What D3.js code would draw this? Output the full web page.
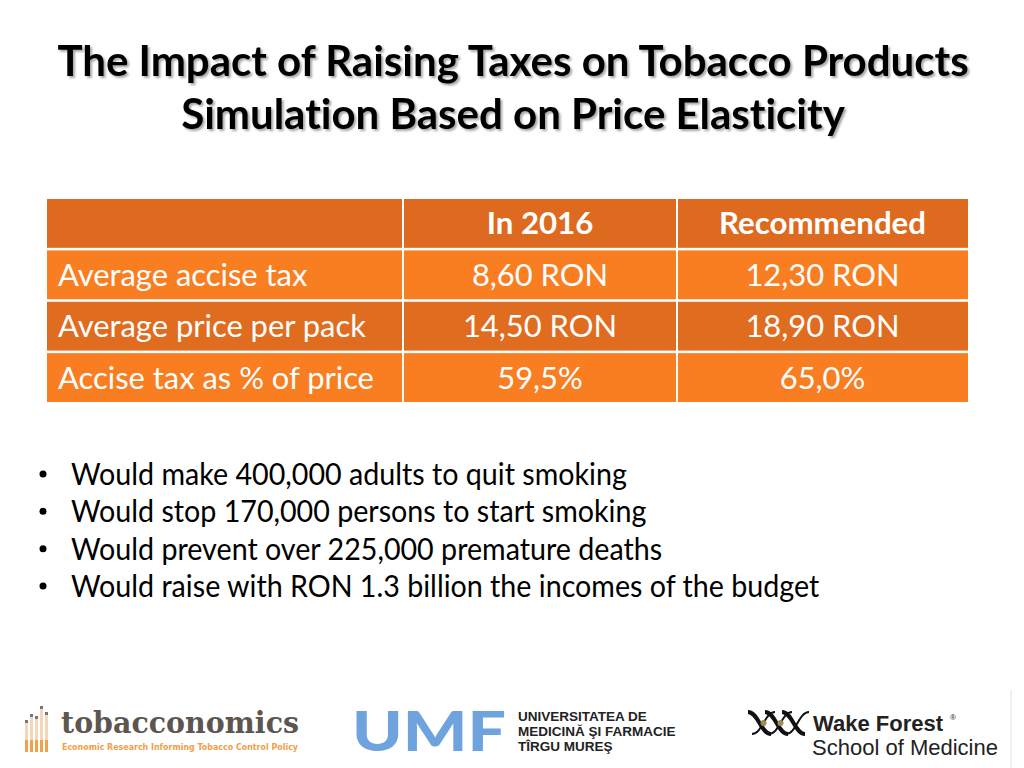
<!DOCTYPE html>
<html>
<head>
<meta charset="utf-8">
<script src="https://cdn.jsdelivr.net/npm/d3@7"></script>
<style>
  html, body { margin: 0; padding: 0; background: #fff; }
  svg { display: block; }
  text { font-variant-ligatures: none; font-feature-settings: "liga" 0, "clig" 0, "dlig" 0; }
</style>
</head>
<body>
<svg id="chart" width="1024" height="768"></svg>
<script>
// ---- data ----
const titleLines = ["The Impact of Raising Taxes on Tobacco Products", "Simulation Based on Price Elasticity"];
const columns = ["", "In 2016", "Recommended"];
const rowLabels = ["Average accise tax", "Average price per pack", "Accise tax as % of price"];
const values2016 = ["8,60 RON", "14,50 RON", "59,5%"];
const valuesRecommended = ["12,30 RON", "18,90 RON", "65,0%"];
const bullets = [
  "Would make 400,000 adults to quit smoking",
  "Would stop 170,000 persons to start smoking",
  "Would prevent over 225,000 premature deaths",
  "Would raise with RON 1.3 billion the incomes of the budget"
];
const umfLines = ["UNIVERSITATEA DE", "MEDICINĂ ŞI FARMACIE", "TÎRGU MUREŞ"];

// ---- layout ----
const svg = d3.select("#chart");
const FONT = "Lato, 'Open Sans', sans-serif";

function squeeze(sel, k) {
  sel.each(function() {
    const w = this.getComputedTextLength();
    d3.select(this).attr("textLength", w * k).attr("lengthAdjust", "spacingAndGlyphs");
  });
}

// defs: title shadow
const defs = svg.append("defs");
const f = defs.append("filter").attr("id", "shadow").attr("x", "-5%").attr("y", "-20%").attr("width", "110%").attr("height", "140%");
f.append("feDropShadow").attr("dx", 2).attr("dy", 2).attr("stdDeviation", 1.2).attr("flood-color", "#000").attr("flood-opacity", 0.35);

// title
const titleY = d3.scaleOrdinal().domain([0, 1]).range([76, 129]);
svg.append("g").selectAll("text").data(titleLines).join("text")
  .attr("x", 513).attr("y", (d, i) => titleY(i))
  .attr("text-anchor", "middle")
  .attr("font-family", FONT).attr("font-weight", 700).attr("font-size", 42)
  .attr("fill", "#000").attr("filter", "url(#shadow)")
  .text(d => d)
  .call(squeeze, 1.0);

// table
const rowKeys = ["header"].concat(rowLabels);
const y = d3.scaleBand().domain(rowKeys).range([199, 402]).paddingInner(0.05);
const colEdges = [47, 403, 677, 968];
const x = d3.scaleOrdinal().domain(columns).range(colEdges.slice(0, 3));
const xEnd = d3.scaleOrdinal().domain(columns).range(colEdges.slice(1));
const rowColor = d3.scaleOrdinal().domain(rowKeys).range(["#DD6A1F", "#F97D21", "#DF6C1F", "#F97D21"]);

const table = svg.append("g");
table.selectAll("rect.row").data(rowKeys).join("rect")
  .attr("class", "row")
  .attr("x", colEdges[0]).attr("width", colEdges[3] - colEdges[0])
  .attr("y", d => y(d)).attr("height", y.bandwidth())
  .attr("fill", d => rowColor(d));

table.selectAll("line.div").data(columns.slice(1)).join("line")
  .attr("class", "div")
  .attr("x1", d => x(d)).attr("x2", d => x(d))
  .attr("y1", 199).attr("y2", 402)
  .attr("stroke", "#fff").attr("stroke-width", 2);

// header texts
table.selectAll("text.hdr").data(columns.slice(1)).join("text")
  .attr("class", "hdr")
  .attr("x", d => (x(d) + xEnd(d)) / 2)
  .attr("y", y("header") + y.bandwidth() / 2 + 11)
  .attr("text-anchor", "middle")
  .attr("font-family", FONT).attr("font-weight", 700).attr("font-size", 30)
  .attr("fill", "#fff")
  .text(d => d)
  .call(squeeze, 1.04);

const cells = rowLabels.map((r, i) => ({ row: r, label: r, v1: values2016[i], v2: valuesRecommended[i] }));
table.selectAll("text.lbl").data(cells).join("text")
  .attr("class", "lbl")
  .attr("x", colEdges[0] + 11)
  .attr("y", d => y(d.row) + y.bandwidth() / 2 + 11)
  .attr("font-family", FONT).attr("font-size", 30).attr("fill", "#fff")
  .text(d => d.label)
  .call(squeeze, 1.03);

[["v1", columns[1]], ["v2", columns[2]]].forEach(([key, col]) => {
  table.selectAll("text.val-" + key).data(cells).join("text")
    .attr("class", "val-" + key)
    .attr("x", (x(col) + xEnd(col)) / 2)
    .attr("y", d => y(d.row) + y.bandwidth() / 2 + 11)
    .attr("text-anchor", "middle")
    .attr("font-family", FONT).attr("font-size", 30).attr("fill", "#fff")
    .text(d => d[key])
    .call(squeeze, 1.03);
});

// bullets
const by = d3.scaleLinear().domain([0, bullets.length - 1]).range([485, 597]);
const bg = svg.append("g");
bg.selectAll("circle").data(bullets).join("circle")
  .attr("cx", 43).attr("cy", (d, i) => by(i) - 11).attr("r", 3.5).attr("fill", "#000");
bg.selectAll("text").data(bullets).join("text")
  .attr("x", 71).attr("y", (d, i) => by(i))
  .attr("font-family", FONT).attr("font-size", 30).attr("fill", "#000")
  .text(d => d)
  .call(squeeze, 0.955);

// ---- logos ----
const logos = svg.append("g");
// tobacconomics icon: cigarettes
const cigH = [30, 36, 34, 44, 38];
cigH.forEach((h, i) => {
  const cx = 25 + i * 5;
  logos.append("rect").attr("x", cx).attr("y", 752 - h).attr("width", 3).attr("height", h - 12).attr("fill", "#f6d6b8");
  logos.append("rect").attr("x", cx).attr("y", 740).attr("width", 3).attr("height", 12).attr("fill", "#f3a04a");
  logos.append("rect").attr("x", cx).attr("y", 752 - h - 2).attr("width", 3).attr("height", 3).attr("fill", "#777");
});
logos.append("text").attr("x", 61).attr("y", 733)
  .attr("font-family", "'DejaVu Serif', serif").attr("font-weight", 700).attr("font-size", 30)
  .attr("fill", "#5d5550").text("tobacconomics")
  .attr("textLength", 238).attr("lengthAdjust", "spacingAndGlyphs");
logos.append("text").attr("x", 62).attr("y", 750)
  .attr("font-family", "'DejaVu Sans', sans-serif").attr("font-weight", 700).attr("font-size", 9.5)
  .attr("fill", "#f0a04a").text("Economic Research Informing Tobacco Control Policy")
  .attr("textLength", 236).attr("lengthAdjust", "spacingAndGlyphs");

// UMF
logos.append("text").attr("x", 352).attr("y", 751)
  .attr("font-family", "Lato, sans-serif").attr("font-weight", 900).attr("font-size", 56)
  .attr("fill", "#6fa3de").text("UMF")
  .attr("textLength", 154).attr("lengthAdjust", "spacingAndGlyphs");
logos.selectAll("text.umf").data(umfLines).join("text").attr("class", "umf")
  .attr("x", 518).attr("y", (d, i) => 721 + i * 15)
  .attr("font-family", "'Liberation Sans', Arial, sans-serif").attr("font-weight", 700).attr("font-size", 13.5)
  .attr("fill", "#222").text(d => d);

// Wake Forest
const wf = logos.append("g");
[0, 1, 2].forEach(i => {
  const ox = 748 + i * 17;
  wf.append("path").attr("d", `M${ox},712 C${ox + 10},712 ${ox + 13},734 ${ox + 23},734`)
    .attr("fill", "none").attr("stroke", "#111").attr("stroke-width", 4);
  wf.append("path").attr("d", `M${ox + 4},734 C${ox + 14},734 ${ox + 17},712 ${ox + 27},712`)
    .attr("fill", "none").attr("stroke", "#111").attr("stroke-width", 2);
  if (i < 2) wf.append("circle").attr("cx", ox + 15.5).attr("cy", 723).attr("r", 3).attr("fill", "#a08a55");
});
logos.append("text").attr("x", 813).attr("y", 731)
  .attr("font-family", "'Liberation Sans', Arial, sans-serif").attr("font-weight", 700).attr("font-size", 22)
  .attr("fill", "#222").text("Wake Forest");
logos.append("text").attr("x", 950).attr("y", 720)
  .attr("font-family", "'Liberation Sans', Arial, sans-serif").attr("font-size", 8)
  .attr("fill", "#222").text("®");
logos.append("text").attr("x", 812).attr("y", 755)
  .attr("font-family", "'Liberation Sans', Arial, sans-serif").attr("font-size", 22)
  .attr("fill", "#222").text("School of Medicine")
  .attr("textLength", 186).attr("lengthAdjust", "spacingAndGlyphs");
logos.append("line").attr("x1", 1011).attr("x2", 1011).attr("y1", 690).attr("y2", 768)
  .attr("stroke", "#e4e4e4").attr("stroke-width", 1);
</script>
</body>
</html>
